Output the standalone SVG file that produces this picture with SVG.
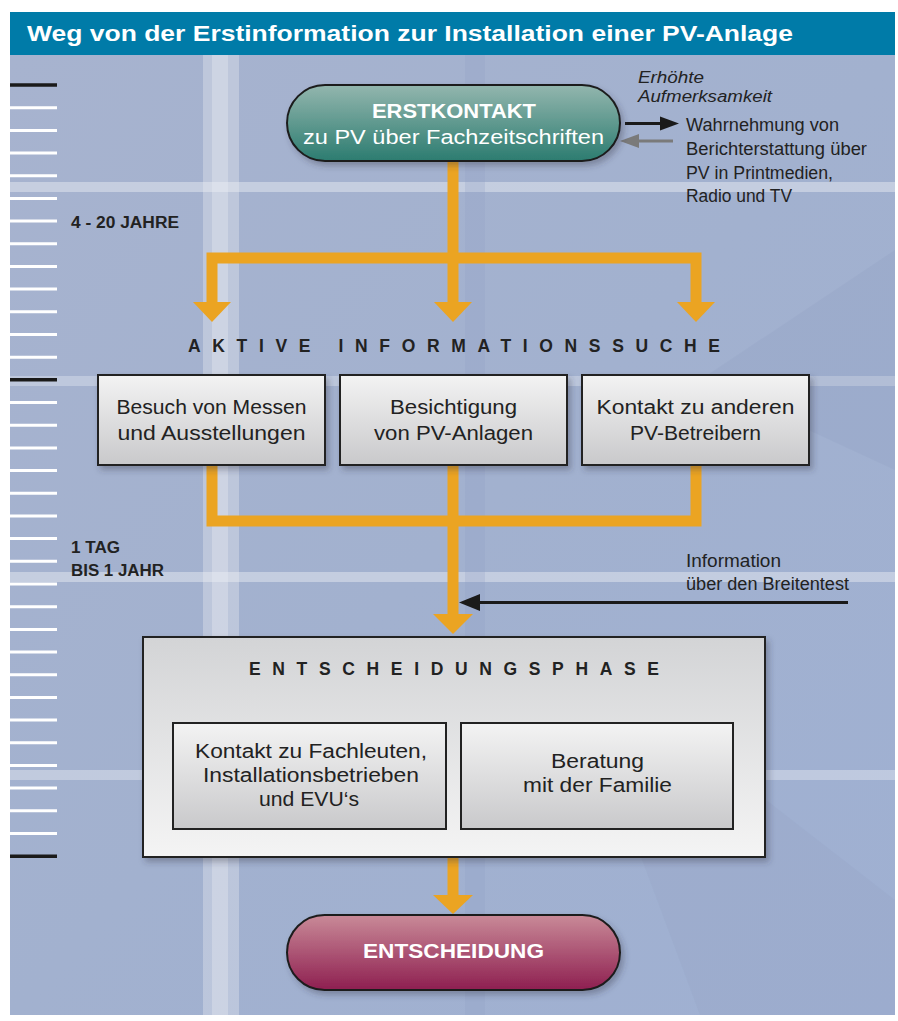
<svg xmlns="http://www.w3.org/2000/svg" width="898" height="1021" viewBox="0 0 898 1021">
<style>
.t{font-family:"Liberation Sans","DejaVu Sans",sans-serif;fill:#222;}
.w{font-family:"Liberation Sans","DejaVu Sans",sans-serif;fill:#fff;}
.bx{font-size:19.5px;}
.box{stroke:#222;stroke-width:2;}
.tick{stroke:#fff;stroke-width:3;}
.tickb{stroke:#1a1a1a;stroke-width:3.5;}
.or{fill:none;stroke:#eba422;stroke-width:11;}
.orh{fill:#eba422;}
</style>
<defs>
<linearGradient id="bg" x1="0" y1="0" x2="1" y2="1">
<stop offset="0" stop-color="#a7b3cf"/>
<stop offset="0.5" stop-color="#a2b1cf"/>
<stop offset="1" stop-color="#9fb0d2"/>
</linearGradient>
<linearGradient id="teal" x1="0" y1="0" x2="0" y2="1">
<stop offset="0" stop-color="#93b6ae"/>
<stop offset="1" stop-color="#2c7c70"/>
</linearGradient>
<linearGradient id="mag" x1="0" y1="0" x2="0" y2="1">
<stop offset="0" stop-color="#c98a98"/>
<stop offset="1" stop-color="#8e1f50"/>
</linearGradient>
<linearGradient id="gbox" x1="0" y1="0" x2="0" y2="1">
<stop offset="0" stop-color="#f3f3f3"/>
<stop offset="1" stop-color="#c9c9cb"/>
</linearGradient>
<linearGradient id="gbig" x1="0" y1="0" x2="0" y2="1">
<stop offset="0" stop-color="#d3d4d6"/>
<stop offset="1" stop-color="#f4f4f4"/>
</linearGradient>
<filter id="sh" x="-10%" y="-10%" width="130%" height="140%">
<feDropShadow dx="3" dy="4" stdDeviation="3" flood-color="#334" flood-opacity="0.35"/>
</filter>
</defs>

<!-- background -->
<g id="background">
<rect x="10" y="55" width="885" height="960" fill="url(#bg)"/>
<rect x="203" y="55" width="36" height="960" fill="#e4e6ee" opacity="0.4"/>
<rect x="212" y="55" width="16" height="960" fill="#f2f3f6" opacity="0.3"/>
<rect x="10" y="182" width="885" height="10" fill="#eef0f5" opacity="0.45"/>
<rect x="10" y="376" width="885" height="10" fill="#eef0f5" opacity="0.35"/>
<rect x="10" y="572" width="885" height="10" fill="#eef0f5" opacity="0.45"/>
<rect x="10" y="770" width="885" height="10" fill="#eef0f5" opacity="0.4"/>
<rect x="465" y="55" width="20" height="960" fill="#8f9fc2" opacity="0.25"/>
<path d="M700 380 L895 250 L895 470 Z" fill="#8c9cbf" opacity="0.2"/>
<path d="M560 640 L895 900 L895 1015 L700 1015 Z" fill="#8c9cbf" opacity="0.15"/>
</g>

<!-- title -->
<g id="title">
<rect x="10" y="12" width="885" height="43" fill="#007ba8"/>
<text class="w" x="27" y="41" font-size="22" font-weight="bold" textLength="766" lengthAdjust="spacingAndGlyphs">Weg von der Erstinformation zur Installation einer PV-Anlage</text>
</g>

<!-- time scale -->
<g id="scale">
<line class="tick" x1="10" y1="107.7" x2="57" y2="107.7"/>
<line class="tick" x1="10" y1="130.4" x2="57" y2="130.4"/>
<line class="tick" x1="10" y1="153" x2="57" y2="153"/>
<line class="tick" x1="10" y1="175.7" x2="57" y2="175.7"/>
<line class="tick" x1="10" y1="198.4" x2="57" y2="198.4"/>
<line class="tick" x1="10" y1="221.1" x2="57" y2="221.1"/>
<line class="tick" x1="10" y1="243.8" x2="57" y2="243.8"/>
<line class="tick" x1="10" y1="266.4" x2="57" y2="266.4"/>
<line class="tick" x1="10" y1="289.1" x2="57" y2="289.1"/>
<line class="tick" x1="10" y1="311.8" x2="57" y2="311.8"/>
<line class="tick" x1="10" y1="334.5" x2="57" y2="334.5"/>
<line class="tick" x1="10" y1="357.2" x2="57" y2="357.2"/>
<line class="tick" x1="10" y1="402.5" x2="57" y2="402.5"/>
<line class="tick" x1="10" y1="425.2" x2="57" y2="425.2"/>
<line class="tick" x1="10" y1="447.9" x2="57" y2="447.9"/>
<line class="tick" x1="10" y1="470.6" x2="57" y2="470.6"/>
<line class="tick" x1="10" y1="493.3" x2="57" y2="493.3"/>
<line class="tick" x1="10" y1="515.9" x2="57" y2="515.9"/>
<line class="tick" x1="10" y1="538.6" x2="57" y2="538.6"/>
<line class="tick" x1="10" y1="561.3" x2="57" y2="561.3"/>
<line class="tick" x1="10" y1="584" x2="57" y2="584"/>
<line class="tick" x1="10" y1="606.7" x2="57" y2="606.7"/>
<line class="tick" x1="10" y1="629.4" x2="57" y2="629.4"/>
<line class="tick" x1="10" y1="652" x2="57" y2="652"/>
<line class="tick" x1="10" y1="674.7" x2="57" y2="674.7"/>
<line class="tick" x1="10" y1="697.4" x2="57" y2="697.4"/>
<line class="tick" x1="10" y1="720.1" x2="57" y2="720.1"/>
<line class="tick" x1="10" y1="742.8" x2="57" y2="742.8"/>
<line class="tick" x1="10" y1="765.4" x2="57" y2="765.4"/>
<line class="tick" x1="10" y1="788.1" x2="57" y2="788.1"/>
<line class="tick" x1="10" y1="810.8" x2="57" y2="810.8"/>
<line class="tick" x1="10" y1="833.5" x2="57" y2="833.5"/>
<line class="tickb" x1="10" y1="85" x2="57" y2="85"/>
<line class="tickb" x1="10" y1="379.8" x2="57" y2="379.8"/>
<line class="tickb" x1="10" y1="856.2" x2="57" y2="856.2"/>
<text class="t" x="71" y="228" font-size="16" font-weight="bold" textLength="108" lengthAdjust="spacingAndGlyphs">4 - 20 JAHRE</text>
<text class="t" x="71" y="553" font-size="16" font-weight="bold" textLength="49" lengthAdjust="spacingAndGlyphs">1 TAG</text>
<text class="t" x="71" y="576" font-size="16" font-weight="bold" textLength="93" lengthAdjust="spacingAndGlyphs">BIS 1 JAHR</text>
</g>

<!-- connectors -->
<g id="connectors">
<path class="or" d="M453 161 V258"/>
<path class="or" d="M212 306 V258 H696 V306"/>
<path class="or" d="M453 258 V306"/>
<polygon class="orh" points="193,302 231,302 212,322"/>
<polygon class="orh" points="434,302 472,302 453,322"/>
<polygon class="orh" points="677,302 715,302 696,322"/>
<path class="or" d="M212 465 V521 H696 V465"/>
<path class="or" d="M453 465 V616"/>
<polygon class="orh" points="433,614 473,614 453,634"/>
<path class="or" d="M453 857 V897"/>
<polygon class="orh" points="433,895 473,895 453,914"/>
<line x1="848" y1="602.5" x2="478" y2="602.5" stroke="#1a1a1a" stroke-width="3"/>
<polygon points="459,602.5 480,594 480,611" fill="#1a1a1a"/>
<line x1="625" y1="123.5" x2="662" y2="123.5" stroke="#1a1a1a" stroke-width="3"/>
<polygon points="679,123.5 660,116.5 660,130.5" fill="#1a1a1a"/>
<line x1="673" y1="141" x2="638" y2="141" stroke="#7a7a7a" stroke-width="3"/>
<polygon points="620,141 639,134 639,148" fill="#7a7a7a"/>
</g>

<!-- nodes -->
<g id="erstkontakt">
<rect x="287" y="85" width="333" height="76" rx="38" ry="38" fill="url(#teal)" stroke="#1c1c1c" stroke-width="2" filter="url(#sh)"/>
<text class="w" x="454" y="118" font-size="21" font-weight="bold" text-anchor="middle" textLength="164" lengthAdjust="spacingAndGlyphs">ERSTKONTAKT</text>
<text class="w" x="453.5" y="144" font-size="20" text-anchor="middle" textLength="301" lengthAdjust="spacingAndGlyphs">zu PV über Fachzeitschriften</text>
</g>

<g id="medien">
<text class="t" x="638" y="83" font-size="16" font-style="italic" textLength="66" lengthAdjust="spacingAndGlyphs">Erhöhte</text>
<text class="t" x="638" y="102" font-size="16" font-style="italic" textLength="134" lengthAdjust="spacingAndGlyphs">Aufmerksamkeit</text>
<text class="t" x="686" y="131" font-size="17.5" textLength="153" lengthAdjust="spacingAndGlyphs">Wahrnehmung von</text>
<text class="t" x="686" y="155" font-size="17.5" textLength="181" lengthAdjust="spacingAndGlyphs">Berichterstattung über</text>
<text class="t" x="686" y="179" font-size="17.5" textLength="147" lengthAdjust="spacingAndGlyphs">PV in Printmedien,</text>
<text class="t" x="686" y="202" font-size="17.5" textLength="106" lengthAdjust="spacingAndGlyphs">Radio und TV</text>
</g>

<g id="aktive">
<text class="t" x="188" y="352" font-size="17.5" font-weight="bold" textLength="532" lengthAdjust="spacing">AKTIVE INFORMATIONSSUCHE</text>
</g>

<g id="messen">
<rect class="box" x="98" y="375" width="227" height="90" fill="url(#gbox)" filter="url(#sh)"/>
<text class="t bx" x="211.5" y="414" text-anchor="middle" textLength="190" lengthAdjust="spacingAndGlyphs">Besuch von Messen</text>
<text class="t bx" x="211.5" y="440" text-anchor="middle" textLength="188" lengthAdjust="spacingAndGlyphs">und Ausstellungen</text>
</g>
<g id="besichtigung">
<rect class="box" x="340" y="375" width="227" height="90" fill="url(#gbox)" filter="url(#sh)"/>
<text class="t bx" x="453.5" y="414" text-anchor="middle" textLength="127" lengthAdjust="spacingAndGlyphs">Besichtigung</text>
<text class="t bx" x="453.5" y="440" text-anchor="middle" textLength="159" lengthAdjust="spacingAndGlyphs">von PV-Anlagen</text>
</g>
<g id="betreiber">
<rect class="box" x="582" y="375" width="227" height="90" fill="url(#gbox)" filter="url(#sh)"/>
<text class="t bx" x="695.5" y="414" text-anchor="middle" textLength="198" lengthAdjust="spacingAndGlyphs">Kontakt zu anderen</text>
<text class="t bx" x="695.5" y="440" text-anchor="middle" textLength="131" lengthAdjust="spacingAndGlyphs">PV-Betreibern</text>
</g>

<g id="breitentest">
<text class="t" x="686" y="567" font-size="17.5" textLength="95" lengthAdjust="spacingAndGlyphs">Information</text>
<text class="t" x="686" y="590" font-size="17.5" textLength="163" lengthAdjust="spacingAndGlyphs">über den Breitentest</text>
</g>

<g id="entscheidungsphase">
<rect class="box" x="143" y="637" width="622" height="220" fill="url(#gbig)" filter="url(#sh)"/>
<text class="t" x="249" y="675" font-size="17.5" font-weight="bold" textLength="410" lengthAdjust="spacing">ENTSCHEIDUNGSPHASE</text>
</g>
<g id="fachleute">
<rect class="box" x="173" y="723" width="273" height="106" fill="url(#gbox)"/>
<text class="t bx" x="311" y="758" text-anchor="middle" textLength="232" lengthAdjust="spacingAndGlyphs">Kontakt zu Fachleuten,</text>
<text class="t bx" x="311" y="782" text-anchor="middle" textLength="216" lengthAdjust="spacingAndGlyphs">Installationsbetrieben</text>
<text class="t bx" x="309" y="806" text-anchor="middle" textLength="100" lengthAdjust="spacingAndGlyphs">und EVU‘s</text>
</g>
<g id="familie">
<rect class="box" x="461" y="723" width="272" height="106" fill="url(#gbox)"/>
<text class="t bx" x="597.5" y="768" text-anchor="middle" textLength="93" lengthAdjust="spacingAndGlyphs">Beratung</text>
<text class="t bx" x="597.5" y="792" text-anchor="middle" textLength="149" lengthAdjust="spacingAndGlyphs">mit der Familie</text>
</g>

<g id="entscheidung">
<rect x="287" y="915" width="333" height="75" rx="37.5" ry="37.5" fill="url(#mag)" stroke="#1c1c1c" stroke-width="2" filter="url(#sh)"/>
<text class="w" x="453.5" y="958" font-size="21" font-weight="bold" text-anchor="middle" textLength="181" lengthAdjust="spacingAndGlyphs">ENTSCHEIDUNG</text>
</g>
</svg>
